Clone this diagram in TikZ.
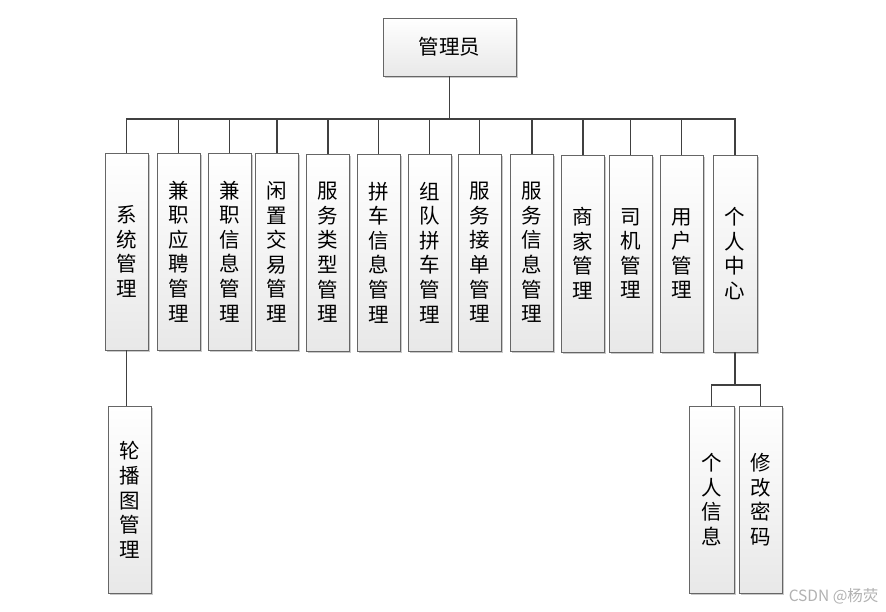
\documentclass[tikz,border=0pt]{standalone}
\usepackage{fontspec}
\setmainfont{Noto Sans CJK SC}
\usetikzlibrary{shadows}
\begin{document}
\begin{tikzpicture}[x=1pt,y=-1pt,
  box/.style={draw=black!60, line width=0.9pt, rectangle, inner sep=0pt,
    top color=white, bottom color=black!9,
    drop shadow={shadow xshift=1.5pt, shadow yshift=-1.5pt, fill=black!35, opacity=0.6},
    font=\fontsize{20.5}{24.6}\selectfont, align=center},
  vbox/.style={box, minimum width=43pt, minimum height=197pt, text width=30pt},
  lbox/.style={box, minimum width=43pt, minimum height=187pt, text width=30pt},
  conn/.style={draw=black!75, line width=1.4pt}]
\useasboundingbox (0,0) rectangle (886,611);
\fill[white] (0,0) rectangle (886,611);

\node[box, minimum width=133pt, minimum height=58pt] (top) at (449.5,47) {管理员};

\node[vbox] (n1) at (126.5,251.5) {系\\统\\管\\理};
\node[vbox] (n2) at (178.5,251.5) {兼\\职\\应\\聘\\管\\理};
\node[vbox] (n3) at (229.5,251.5) {兼\\职\\信\\息\\管\\理};
\node[vbox] (n4) at (277,252) {闲\\置\\交\\易\\管\\理};
\node[vbox] (n5) at (328,252.5) {服\\务\\类\\型\\管\\理};
\node[vbox] (n6) at (378.5,252.5) {拼\\车\\信\\息\\管\\理};
\node[vbox] (n7) at (429.5,252.5) {组\\队\\拼\\车\\管\\理};
\node[vbox] (n8) at (479.5,252.5) {服\\务\\接\\单\\管\\理};
\node[vbox] (n9) at (532,252.5) {服\\务\\信\\息\\管\\理};
\node[vbox] (n10) at (583,253.5) {商\\家\\管\\理};
\node[vbox] (n11) at (630.5,253.5) {司\\机\\管\\理};
\node[vbox] (n12) at (681.5,253.5) {用\\户\\管\\理};
\node[vbox, minimum width=44pt] (n13) at (735,253.5) {个\\人\\中\\心};

\node[lbox] (b1) at (129.5,500) {轮\\播\\图\\管\\理};
\node[lbox, minimum width=45pt] (p1) at (711.5,499.5) {个\\人\\信\\息};
\node[lbox] (p2) at (760.5,499.5) {修\\改\\密\\码};

\coordinate (bar) at (452,119);
\coordinate (bar2) at (737,385);

\draw[conn] (top.south) -- (top.south |- bar);
\draw[conn] (n1.north) |- (bar) -| (n13.north);
\foreach \n in {n2,n3,n4,n5,n6,n7,n8,n9,n10,n11,n12}
  \draw[conn] (\n.north) -- (\n.north |- bar);
\draw[conn] (n1.south) -- (n1.south |- b1.north);
\draw[conn] (n13.south) -- (n13.south |- bar2);
\draw[conn] (p1.north) |- (bar2) -| (p2.north);

\node[text=black!30, font=\fontsize{15.5}{18}\selectfont, anchor=east] (wm) at (882,596) {CSDN @杨荧};
\end{tikzpicture}
\end{document}
